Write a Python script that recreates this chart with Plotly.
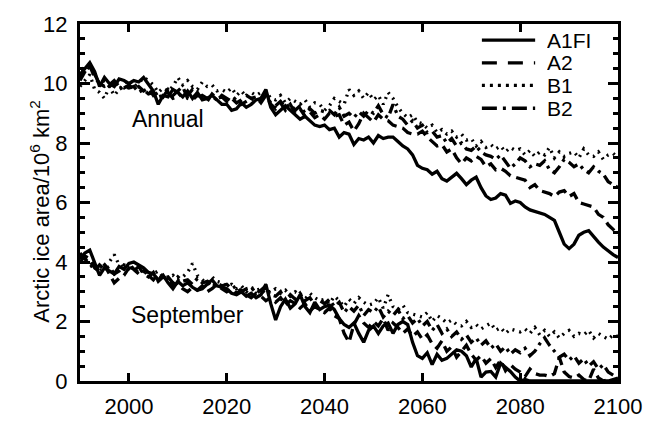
import plotly.graph_objects as go

years = list(range(1990, 2101))

annual_a1fi = [
    10.3, 10.5, 10.7, 10.4, 9.9, 10.2, 10.0, 9.9, 10.15, 10.1,
    10.0, 10.1, 10.05, 10.2, 9.95, 9.75, 9.3, 9.6, 9.55, 9.8,
    9.7, 9.55, 9.75, 9.5, 9.7, 9.45, 9.5, 9.6, 9.45, 9.3,
    9.3, 9.1, 9.15, 9.35, 9.2, 9.3, 9.45, 9.5, 9.8, 9.2,
    8.95, 9.1, 9.25, 9.1, 8.95, 8.8, 8.9, 8.75, 8.6, 8.55,
    8.6, 8.45, 8.5, 8.2, 8.35, 8.3, 7.95, 8.15, 8.1, 8.2,
    8.0, 8.25, 8.15, 8.2, 8.2, 8.05, 7.9, 7.8, 7.6, 7.25,
    7.15, 7.1, 6.95, 7.05, 6.8, 6.72, 6.85, 6.98, 6.8, 6.6,
    6.75, 6.85, 6.5, 6.22, 6.1, 6.15, 6.3, 6.25, 5.97, 6.05,
    6.0, 5.85, 5.75, 5.7, 5.65, 5.6, 5.5, 5.4, 5.0, 4.6,
    4.45, 4.6, 4.9, 5.0, 5.05, 4.85, 4.67, 4.5, 4.36, 4.25,
    4.15,
]
annual_a2 = [
    10.1, 10.4, 10.6, 10.2, 10.0, 9.9, 9.95, 10.1, 9.9, 9.85,
    9.95, 9.8, 9.9, 9.75, 9.85, 9.6, 9.7, 9.55, 9.8, 9.6,
    9.75, 9.9, 9.5, 9.45, 9.6, 9.55, 9.4, 9.65, 9.5, 9.55,
    9.4, 9.5, 9.35, 9.45, 9.6, 9.5, 9.55, 9.35, 9.6, 9.3,
    9.15, 9.35, 9.1, 9.3, 9.0, 9.15, 8.9, 9.05, 8.85, 8.95,
    8.8, 9.0, 8.9, 8.95, 8.6, 8.7, 8.4, 8.65, 9.0, 8.85,
    8.7, 8.95, 8.8, 8.75, 8.6, 8.55, 8.5, 8.35, 8.3, 8.3,
    8.4, 8.2, 8.05, 7.9, 7.95, 7.7, 7.8, 7.5, 7.3, 7.5,
    7.4, 7.55, 7.45, 7.2, 7.3, 7.1, 7.15, 7.05, 6.9, 6.85,
    6.8, 6.75, 6.5, 6.6, 6.4, 6.35, 6.3, 6.2, 6.35, 6.4,
    6.2, 6.3, 6.0, 5.95, 5.9, 5.85, 5.6, 5.5, 5.25, 5.1,
    4.9,
]
annual_b1 = [
    9.9, 10.1, 10.3, 9.8, 9.7, 9.5, 9.9, 9.6, 9.8, 10.0,
    10.1, 9.9, 10.0, 10.2, 10.1, 9.95, 9.7, 9.85, 9.75, 9.9,
    10.2, 9.95, 10.1, 9.9, 9.8, 10.05, 9.9, 9.95, 9.75, 9.8,
    9.7, 9.85, 9.6, 9.75, 9.55, 9.7, 9.6, 9.7, 9.75, 9.5,
    9.45, 9.6, 9.35, 9.5, 9.4, 9.3, 9.45, 9.2, 9.35, 9.3,
    9.1, 9.25, 9.5, 9.4, 9.3, 9.8, 9.6, 9.75, 9.5, 9.7,
    9.45, 9.6, 9.3, 9.7, 9.5, 9.2, 9.0, 8.85, 8.95, 8.7,
    8.65, 8.5, 8.6, 8.35, 8.45, 8.3, 8.4, 8.2, 8.3, 8.1,
    8.15, 7.9, 8.05, 7.85, 7.95, 7.8, 7.9, 7.7, 7.85, 7.75,
    7.8, 7.6, 7.75, 7.55, 7.7, 7.6, 7.85, 7.5, 7.7, 7.55,
    7.65, 7.7, 7.5, 7.8, 7.6, 7.55, 7.7, 7.45, 7.6, 7.65,
    7.5,
]
annual_b2 = [
    10.2, 10.6, 10.5, 10.3, 10.0, 10.1, 9.9, 10.0, 9.8, 9.9,
    9.85, 9.9, 9.7, 9.8, 9.65, 9.7, 9.55, 9.6, 9.7, 9.5,
    9.55, 9.7, 9.6, 9.8, 9.5, 9.6, 9.5, 9.55, 9.45, 9.6,
    9.5, 9.4, 9.55, 9.3, 9.4, 9.5, 9.4, 9.45, 9.6, 9.35,
    9.25, 9.4, 9.2, 9.3, 9.1, 9.25, 9.0, 9.15, 9.0, 9.1,
    9.05, 9.1, 8.95, 9.2, 8.9, 9.0, 8.85, 9.05, 8.9, 9.1,
    9.0, 9.25, 8.95, 8.85, 9.3, 8.9, 8.8, 8.6, 8.75, 8.5,
    8.6, 8.35, 8.4, 8.2, 8.25, 8.0, 8.15, 7.9, 8.0, 7.8,
    7.75, 7.9, 7.7, 7.6, 7.55, 7.45, 7.6, 7.35, 7.15, 7.3,
    7.5, 7.4, 7.2, 7.3, 7.25, 7.4, 7.1, 7.0, 7.2, 7.45,
    7.35, 7.2, 7.3, 7.1, 7.0, 7.2, 7.05, 6.95, 6.7, 6.6,
    6.5,
]

sept_a1fi = [
    4.1, 4.3, 4.4, 4.0, 3.55, 3.8, 3.7, 3.6, 3.85, 3.75,
    3.95, 4.0, 3.9, 3.8, 3.65, 3.6, 3.4, 3.55, 3.3, 3.1,
    3.35, 3.2, 3.3, 3.15, 3.05, 3.1, 3.25, 3.4, 3.2, 3.15,
    3.1, 2.95, 2.9, 3.0, 2.85, 2.95, 2.8, 2.9, 3.25, 2.6,
    2.05, 2.5, 2.75, 2.45, 2.6, 2.9, 2.5, 2.3, 2.65, 2.4,
    2.5, 2.55, 2.4, 2.1, 1.9, 1.8, 1.95, 1.6, 1.3, 1.7,
    1.85, 1.6, 1.85, 1.95, 1.6, 1.9, 2.0, 1.9, 1.3, 0.85,
    0.76, 0.95, 0.55, 0.9, 0.7, 0.76, 0.9, 1.05, 1.0, 0.85,
    0.47, 0.76, 0.13, 0.3, 0.32, 0.13, 0.6, 0.45, 0.32, 0.13,
    0.0, 0.05, 0.0, 0.0, 0.0, 0.0, 0.0, 0.0, 0.0, 0.0,
    0.0, 0.0, 0.0, 0.0, 0.0, 0.0, 0.0, 0.0, 0.0, 0.05,
    0.1,
]
sept_a2 = [
    4.0, 4.2, 4.1, 3.8, 3.75, 3.9, 3.6, 3.3, 3.45, 3.55,
    3.8, 3.7, 3.85, 3.6, 3.5, 3.65, 3.35, 3.5, 3.4, 3.2,
    3.3, 3.1, 3.0, 3.15, 3.05, 3.2, 3.0, 3.1, 3.25, 3.1,
    3.0, 3.1, 2.95, 3.05, 2.9, 2.8, 2.95, 2.85, 2.7, 2.8,
    2.65, 2.8, 2.55, 2.7, 2.6, 2.45, 2.6, 2.35, 2.5, 2.4,
    2.3, 2.45, 2.2, 2.1, 1.6, 1.3, 1.9, 2.2, 1.95, 1.8,
    2.0, 1.85, 2.1, 1.7, 1.95, 1.8, 1.6, 1.75, 1.5, 1.65,
    1.4, 1.55, 1.25, 1.1, 1.35, 1.0, 1.15, 0.8, 1.0, 1.2,
    0.9, 0.7, 0.85, 0.6, 0.75, 0.45, 0.7, 0.35, 0.55, 0.4,
    0.3, 0.15, 0.4, 0.25, 0.2, 0.2, 0.15, 0.25, 0.8, 0.3,
    0.15, 0.1, 0.2, 0.05, 0.0, 0.4, 0.1, 0.0, 0.05, 0.0,
    0.0,
]
sept_b1 = [
    4.2, 4.0, 3.9, 3.95, 3.7, 3.85, 4.0, 4.25, 3.9, 3.8,
    3.7, 3.85, 3.6, 3.75, 3.5, 3.6, 3.7, 3.5, 3.45, 3.55,
    3.4, 3.5, 3.65, 3.95, 3.55, 3.4, 3.3, 3.5, 3.35, 3.3,
    3.2, 3.25, 3.1, 3.2, 3.0, 3.15, 3.05, 3.1, 2.9, 3.0,
    3.1, 2.95, 3.05, 2.85, 3.0, 2.9, 2.75, 2.95, 2.8, 2.7,
    2.75, 2.6, 2.85, 2.7, 2.5, 2.75, 2.6, 2.8, 2.65, 2.55,
    2.6, 2.8, 2.45, 2.9, 2.5, 2.4, 2.55, 2.3, 2.25, 2.2,
    2.15, 2.3, 2.0, 2.2, 2.1, 1.95, 2.05, 1.9, 1.85, 2.0,
    1.8, 1.9, 1.75, 1.85, 1.95, 1.7, 1.8, 1.6, 1.75, 1.7,
    1.65, 1.75, 1.6, 1.8, 1.55, 1.7, 1.5, 1.65, 1.45, 1.6,
    1.7, 1.5, 1.6, 1.55, 1.7, 1.45, 1.6, 1.5, 1.4, 1.55,
    1.5,
]
sept_b2 = [
    4.3, 4.1, 3.95, 3.7, 3.9, 3.75, 3.85, 3.6, 3.7, 3.9,
    3.85, 3.75, 3.6, 3.7, 3.55, 3.4, 3.6, 3.45, 3.5, 3.3,
    3.5, 3.35, 3.4, 3.25, 3.45, 3.3, 3.35, 3.15, 3.3, 3.2,
    3.25, 3.1, 3.2, 3.0, 3.1, 3.15, 2.95, 3.05, 3.2, 2.9,
    2.85, 3.0, 2.7, 2.9, 2.75, 2.95, 2.7, 2.8, 2.55, 2.7,
    2.6, 2.75, 2.5, 2.65, 2.3, 2.5, 2.35, 2.55, 2.2, 2.4,
    2.3, 2.5, 2.15, 2.35, 2.2, 2.4, 2.1, 2.2, 1.95, 2.1,
    1.85, 2.0, 1.7, 1.9, 1.6, 1.75, 1.5, 1.65, 1.4, 1.55,
    1.3, 1.45, 1.2, 1.35, 1.1, 1.25, 1.0, 1.15, 0.9, 1.05,
    0.95, 1.1, 0.85, 1.0, 1.25, 1.45, 1.2, 1.0, 0.8, 0.9,
    0.7, 0.85, 0.6, 0.75, 0.5, 0.65, 0.4, 0.55, 0.3, 0.2,
    0.1,
]

scenarios = ["A1FI", "A2", "B1", "B2"]
dashes = {"A1FI": "solid", "A2": "11px,6px", "B1": "2px,5px", "B2": "11px,5px,3px,5px"}
annual = {"A1FI": annual_a1fi, "A2": annual_a2, "B1": annual_b1, "B2": annual_b2}
sept = {"A1FI": sept_a1fi, "A2": sept_a2, "B1": sept_b1, "B2": sept_b2}

FONT = "Liberation Sans, Arial, Helvetica, sans-serif"
LW = 3.3
FS = 22

fig = go.Figure()
for s in scenarios:
    fig.add_trace(go.Scatter(x=years, y=annual[s], mode="lines", name=s,
                             line=dict(color="black", width=LW, dash=dashes[s]),
                             showlegend=False))
for s in scenarios:
    fig.add_trace(go.Scatter(x=years, y=sept[s], mode="lines", name=s,
                             line=dict(color="black", width=LW, dash=dashes[s]),
                             showlegend=False))

# manual legend (paper coords)
leg_dash = {"A1FI": "solid", "A2": "15px,11px", "B1": "3px,5px", "B2": "15px,6px,3px,6px"}
leg_x0, leg_x1, leg_tx = 0.747, 0.846, 0.866
leg_y = [0.955, 0.891, 0.828, 0.764]
for s, yy in zip(scenarios, leg_y):
    fig.add_shape(type="line", xref="paper", yref="paper", x0=leg_x0, x1=leg_x1,
                  y0=yy, y1=yy, line=dict(color="black", width=3.3, dash=leg_dash[s]))
    fig.add_annotation(xref="paper", yref="paper", x=leg_tx, y=yy, text=s,
                       showarrow=False, xanchor="left", yanchor="middle",
                       height=21, borderpad=0,
                       font=dict(family=FONT, size=21, color="black"))

fig.add_annotation(x=2000.3, y=8.8, text="Annual", showarrow=False, xanchor="left",
                   yanchor="middle", font=dict(family=FONT, size=FS + 1, color="black"))
fig.add_annotation(x=2000, y=2.23, text="September", showarrow=False, xanchor="left",
                   yanchor="middle", font=dict(family=FONT, size=FS + 1, color="black"))
fig.add_annotation(xref="paper", yref="paper", x=-0.075, y=0.476,
                   text="Arctic ice area/10<sup>6</sup> km<sup>2</sup>", textangle=-90,
                   showarrow=False, xanchor="center", yanchor="middle",
                   font=dict(family=FONT, size=FS, color="black"))

fig.update_xaxes(range=[1990, 2100], tickvals=[2000, 2020, 2040, 2060, 2080, 2100],
                 ticks="inside", ticklen=8, tickwidth=3, tickcolor="black",
                 showline=True, linewidth=3, linecolor="black", mirror="ticks",
                 showgrid=False, zeroline=False, ticklabelstandoff=4,
                 tickfont=dict(family=FONT, size=FS, color="black"))
fig.update_yaxes(range=[0, 12], tickvals=[0, 2, 4, 6, 8, 10, 12],
                 ticks="inside", ticklen=10, tickwidth=3, tickcolor="black",
                 minor=dict(dtick=0.5, ticks="inside", ticklen=5, tickwidth=3, tickcolor="black"),
                 showline=True, linewidth=3, linecolor="black", mirror="ticks",
                 showgrid=False, zeroline=False, ticklabelstandoff=5,
                 tickfont=dict(family=FONT, size=FS, color="black"))

fig.update_layout(width=654, height=431, margin=dict(l=80, r=28, t=16, b=33),
                  paper_bgcolor="white", plot_bgcolor="white", showlegend=False)

fig.write_html("out.html")
